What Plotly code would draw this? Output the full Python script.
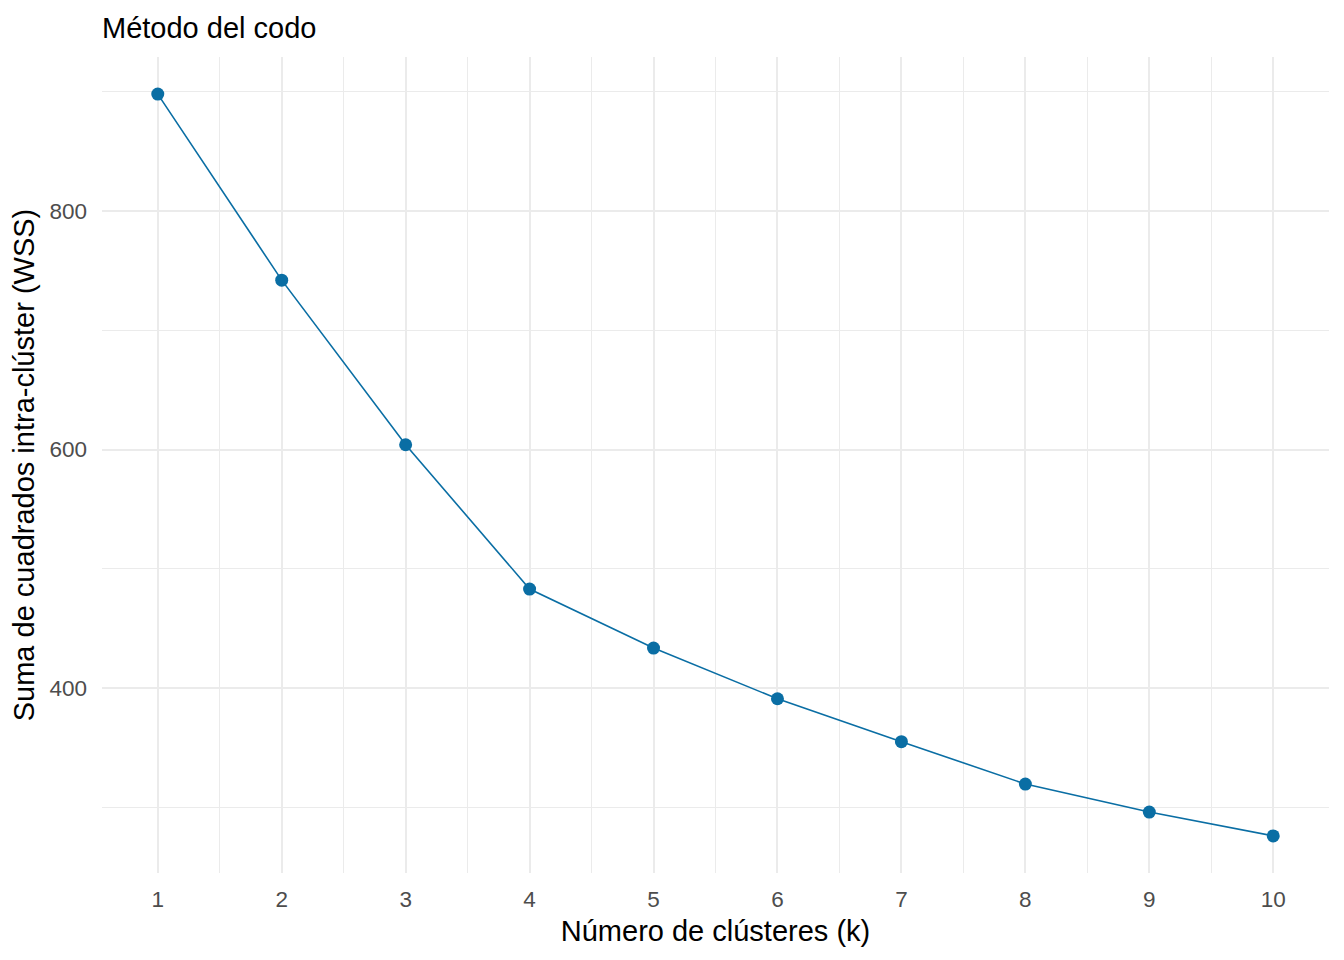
import plotly.graph_objects as go

k_values = [1, 2, 3, 4, 5, 6, 7, 8, 9, 10]
wss_values = [898, 742, 604, 483, 433.5, 391, 355, 319.5, 296, 276]

title_text = "Método del codo"
x_title = "Número de clústeres (k)"
y_title = "Suma de cuadrados intra-clúster (WSS)"

# page has an 8px body margin; compensate so the panel lands at 102..1329 x 57..873
OFF = 8
W, H = 1344 - OFF, 960 - OFF
ML, MR, MT, MB = 102 - OFF, 15, 57 - OFF, 87

def expand(lo, hi, f=0.05):
    d = (hi - lo) * f
    return [lo - d, hi + d]

xr = expand(min(k_values), max(k_values))
yr = expand(min(wss_values), max(wss_values))

color = "#0A6EA4"
grid = "#EBEBEB"
font_family = "Liberation Sans, Arial, sans-serif"

fig = go.Figure()
fig.add_trace(go.Scatter(
    x=k_values, y=wss_values, mode="lines+markers",
    line=dict(color=color, width=1.6),
    marker=dict(color=color, size=13),
    showlegend=False,
))

fig.update_layout(
    width=W, height=H,
    margin=dict(l=ML, r=MR, t=MT, b=MB),
    paper_bgcolor="white", plot_bgcolor="white",
    font=dict(family=font_family, color="black"),
    title=dict(text=title_text, x=ML / W, xanchor="left", xref="container",
               y=1 - (28 - OFF) / H, yanchor="middle", yref="container",
               font=dict(size=29, color="black", family=font_family)),
)

fig.update_xaxes(
    range=xr, tickmode="linear", tick0=1, dtick=1,
    showgrid=True, gridcolor=grid, gridwidth=2,
    minor=dict(dtick=0.5, tick0=0.5, showgrid=True, gridcolor=grid, gridwidth=1.2),
    zeroline=False, showline=False, ticks="",
    tickfont=dict(size=22.5, color="#4D4D4D"),
    ticklabelstandoff=10,
    title=dict(text=x_title, font=dict(size=29, color="black"), standoff=10),
)
fig.update_yaxes(
    range=yr, tickmode="linear", tick0=400, dtick=200,
    showgrid=True, gridcolor=grid, gridwidth=2,
    minor=dict(dtick=100, tick0=300, showgrid=True, gridcolor=grid, gridwidth=1.2),
    zeroline=False, showline=False, ticks="",
    tickfont=dict(size=22.5, color="#4D4D4D"),
    ticklabelstandoff=14,
    title=dict(text=y_title, font=dict(size=29, color="black"), standoff=6),
)

fig.write_html("out.html")
